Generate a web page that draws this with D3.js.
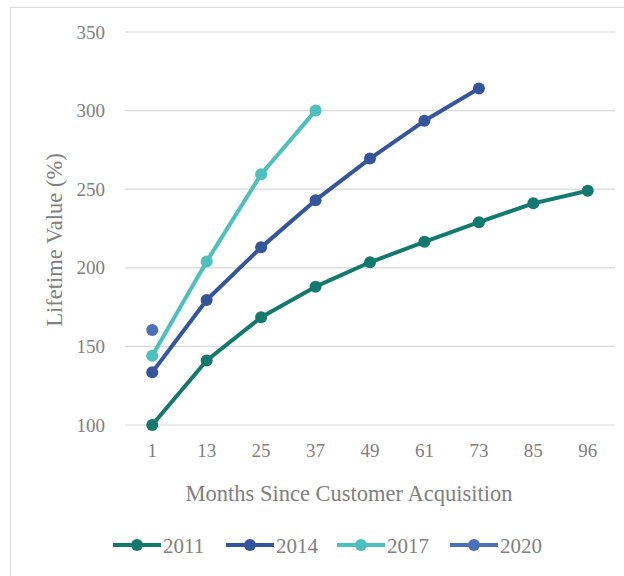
<!DOCTYPE html>
<html>
<head>
<meta charset="utf-8">
<script src="https://cdn.jsdelivr.net/npm/d3@7"></script>
<style>
  body { margin: 0; background: #fff; }
  svg text { font-family: "Liberation Serif", "Times New Roman", Times, serif; fill: #808080; }
</style>
</head>
<body>
<div id="chart"></div>
<script>
// Datos del grafico
const months = ['1', '13', '25', '37', '49', '61', '73', '85', '96'];
const years = ['2011', '2014', '2017', '2020'];
const values2011 = [100, 141, 168.5, 188, 203.5, 216.5, 229, 241, 249];
const values2014 = [133.5, 179.5, 213, 243, 269.5, 293.5, 314];
const values2017 = [144, 204, 259.5, 300];
const values2020 = [160.5];
const yTicks = [100, 150, 200, 250, 300, 350];
const colors = ['#13796f', '#35559a', '#4cbfbe', '#4c70b8'];

const width = 624, height = 576;
const seriesValues = [values2011, values2014, values2017, values2020];
const serif = '"Liberation Serif", "Times New Roman", Times, serif';

const svg = d3.select('#chart')
    .append('svg')
    .attr('width', width)
    .attr('height', height);

// Marco del grafico
svg.append('rect')
    .attr('x', 10.5)
    .attr('y', 7.5)
    .attr('width', 700)
    .attr('height', 700)
    .attr('fill', 'none')
    .attr('stroke', '#d9d9d9');

const x = d3.scaleBand()
    .domain(months)
    .range([125, 615]);

const y = d3.scaleLinear()
    .domain([100, 350])
    .range([425, 32]);

// Lineas de la cuadricula
svg.append('g')
    .selectAll('line')
    .data(yTicks)
    .enter()
    .append('line')
    .attr('x1', 125)
    .attr('x2', 615)
    .attr('y1', d => y(d))
    .attr('y2', d => y(d))
    .attr('stroke', '#d9d9d9')
    .attr('stroke-width', 1.2);

// Eje Y
const yAxis = svg.append('g')
    .attr('transform', 'translate(105,0)')
    .attr('font-family', serif)
    .call(d3.axisLeft(y).tickValues(yTicks).tickSize(0).tickPadding(0));
yAxis.select('.domain').remove();
yAxis.selectAll('text')
    .style('font-size', '19px')
    .style('font-family', serif)
    .attr('fill', '#808080');

// Eje X
const xAxis = svg.append('g')
    .attr('transform', 'translate(0,440)')
    .attr('font-family', serif)
    .call(d3.axisBottom(x).tickSize(0).tickPadding(4));
xAxis.select('.domain').remove();
xAxis.selectAll('text')
    .style('font-size', '19px')
    .style('font-family', serif)
    .attr('fill', '#808080');

// Titulos de los ejes
svg.append('text')
    .attr('x', 349)
    .attr('y', 501)
    .attr('text-anchor', 'middle')
    .style('font-size', '22.5px')
    .style('font-family', serif)
    .text('Months Since Customer Acquisition');

svg.append('text')
    .attr('transform', 'translate(62,240) rotate(-90)')
    .attr('text-anchor', 'middle')
    .style('font-size', '22.5px')
    .style('font-family', serif)
    .text('Lifetime Value (%)');

// Series
const line = d3.line()
    .x((d, i) => x(months[i]) + x.bandwidth() / 2)
    .y(d => y(d));

seriesValues.forEach((vals, s) => {
    const g = svg.append('g');
    if (vals.length > 1) {
        g.append('path')
            .datum(vals)
            .attr('d', line)
            .attr('fill', 'none')
            .attr('stroke', colors[s])
            .attr('stroke-width', 4)
            .attr('stroke-linejoin', 'round');
    }
    g.selectAll('circle')
        .data(vals)
        .enter()
        .append('circle')
        .attr('cx', (d, i) => x(months[i]) + x.bandwidth() / 2)
        .attr('cy', d => y(d))
        .attr('r', 6)
        .attr('fill', colors[s]);
});

// Leyenda
const legendX = [113, 226, 337, 450];
const legend = svg.append('g')
    .selectAll('g')
    .data(years)
    .enter()
    .append('g')
    .attr('transform', (d, i) => `translate(${legendX[i]},545)`);

legend.append('line')
    .attr('x1', 0)
    .attr('x2', 48)
    .attr('stroke', (d, i) => colors[i])
    .attr('stroke-width', 4);

legend.append('circle')
    .attr('cx', 24)
    .attr('r', 6)
    .attr('fill', (d, i) => colors[i]);

legend.append('text')
    .attr('x', 50)
    .attr('y', 8)
    .style('font-size', '21px')
    .style('font-family', serif)
    .text(d => d);
</script>
</body>
</html>
